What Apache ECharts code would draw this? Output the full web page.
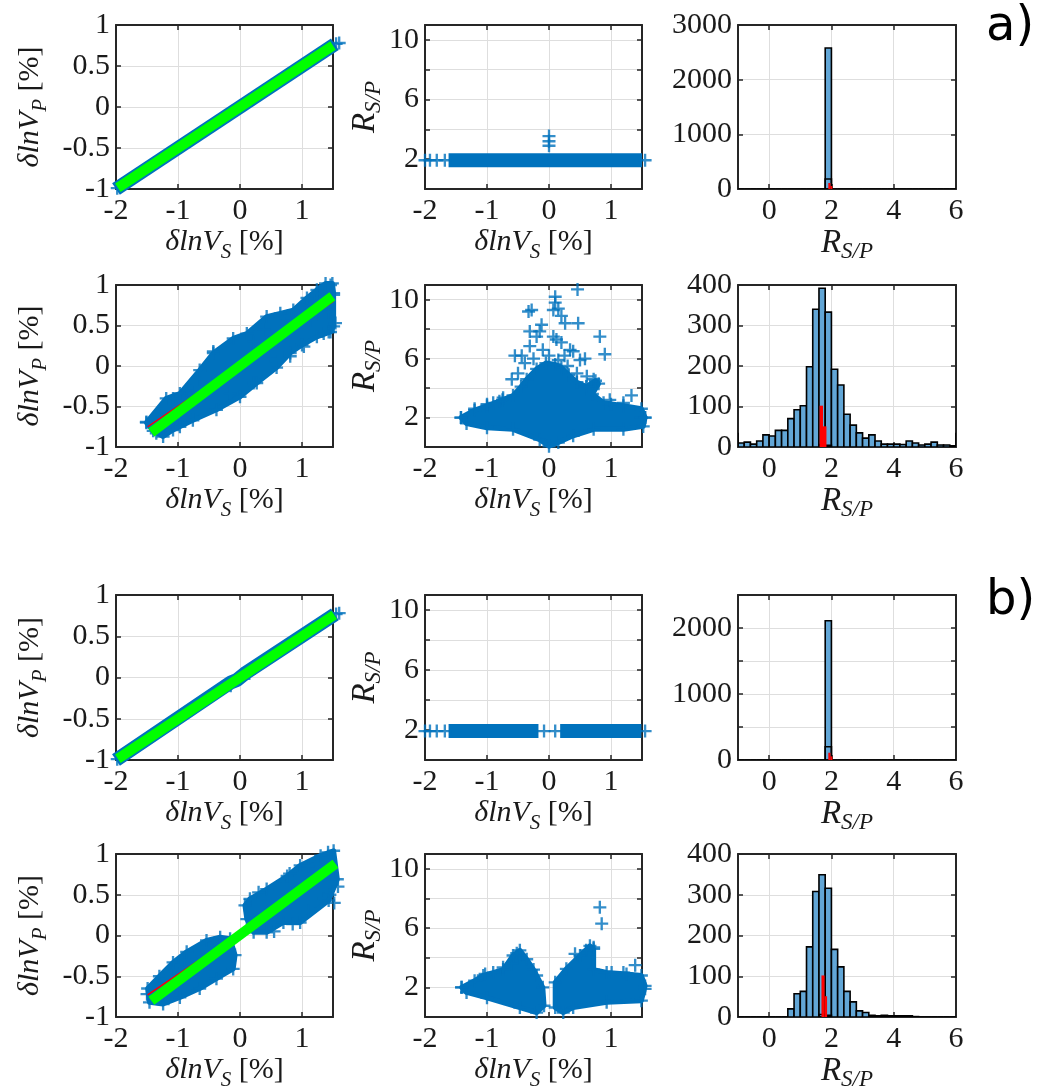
<!DOCTYPE html>
<html>
<head>
<meta charset="utf-8">
<script src="https://cdn.jsdelivr.net/npm/echarts@6/dist/echarts.min.js"></script>
<style>
html,body{margin:0;padding:0;background:#fff;}
#main{width:1052px;height:1086px;}
</style>
</head>
<body>
<div id="main"></div>
<script>
// ---------- tick values ----------
var lnXTicks = [-2, -1, 0, 1];
var lnYTicks = [-1, -0.5, 0, 0.5, 1];
var rYTicks = [0, 2, 4, 6, 8, 10];
var rYLabels = [2, 6, 10];
var histXTicks = [0, 2, 4, 6];
var histYTicksA1 = [0, 1000, 2000, 3000];
var histYTicksB1 = [0, 500, 1000, 1500, 2000, 2500];
var histYLabelsB1 = [0, 1000, 2000];
var histYTicksNoisy = [0, 100, 200, 300, 400];

// ---------- histogram bins ----------
var binEdges = [-1, -0.8, -0.6, -0.4, -0.2, 0, 0.2, 0.4, 0.6, 0.8, 1, 1.2, 1.4, 1.6, 1.8, 2, 2.2, 2.4,
  2.6, 2.8, 3, 3.2, 3.4, 3.6, 3.8, 4, 4.2, 4.4, 4.6, 4.8, 5, 5.2, 5.4, 5.6, 5.8, 6];
var countsA1 = [0,0,0,0,0,0,0,0,0,0,0,0,0,0,2580,0,0,0,0,0,0,0,0,0,0,0,0,0,0,0,0,0,0,0,0];
var countsA2 = [10,12,7,15,30,27,41,41,70,92,102,198,340,392,333,192,153,81,54,35,22,30,15,7,7,7,6,15,10,5,7,12,5,5,3];
var countsB1 = [0,0,0,0,0,0,0,0,0,0,0,0,0,0,2110,0,0,0,0,0,0,0,0,0,0,0,0,0,0,0,0,0,0,0,0];
var countsB2 = [0,0,0,0,0,0,0,0,20,57,63,172,308,349,316,166,123,63,37,15,11,4,3,4,3,3,3,3,1,0,0,0,0,0,0];
// second histogram (outline only) and red histogram: [from, to, count]
var outlineA1 = [[1.8, 2.0, 183]];
var outlineA2 = [[-1.2, -1.0, 33], [1.6, 1.8, 6], [1.8, 2.0, 4], [6.0, 6.2, 33]];
var outlineB1 = [[1.8, 2.0, 200]];
var outlineB2 = [[1.6, 1.8, 6], [1.8, 2.0, 4]];
var redA1 = [[1.9, 1.97, 110], [1.97, 2.03, 55]];
var redA2 = [[1.62, 1.73, 102], [1.73, 1.84, 51]];
var redB1 = [[1.9, 1.97, 110], [1.97, 2.03, 55]];
var redB2 = [[1.68, 1.78, 102], [1.78, 1.86, 51]];

// ---------- dlnVS vs dlnVP ----------
var bandA1 = [[-2.0, -1.0], [1.53, 0.765]];
var fitA1 = [[-1.97, -0.985], [1.5, 0.75]];
var ptsA1 = [[-1.98, -0.99], [-1.9, -0.955], [1.55, 0.77], [1.6, 0.78]];
var bandB1 = [[-2.0, -1.0], [-0.15, -0.06], [-0.05, -0.03], [0.1, 0.06], [1.53, 0.765]];
var fitB1 = [[-1.97, -0.985], [1.52, 0.76]];
var ptsB1 = [[-1.98, -0.99], [-1.9, -0.955], [0.15, 0.05], [-0.15, -0.1], [1.55, 0.77], [1.6, 0.78]];

var cloudA2 = [[-1.51,-0.70],[-1.19,-0.40],[-0.97,-0.34],[-0.65,-0.05],[-0.43,0.16],[-0.11,0.34],[0.11,0.40],
  [0.43,0.61],[0.65,0.65],[0.86,0.69],[1.08,0.84],[1.24,0.94],[1.38,1.02],[1.49,1.02],[1.51,0.90],
  [1.51,0.49],[1.46,0.42],[1.24,0.36],[1.0,0.26],[0.81,0.16],[0.59,-0.02],[0.27,-0.21],[0.0,-0.38],
  [-0.38,-0.54],[-0.76,-0.67],[-1.08,-0.79],[-1.24,-0.87],[-1.4,-0.80]];
var ptsA2 = [[-1.51,-0.69],[-1.08,-0.40],[-0.86,-0.30],[-0.43,0.18],[0.22,0.30],[0.38,0.45],[0.84,0.59],
  [1.14,0.57],[1.03,0.24],[0.81,0.12],[0.22,-0.21],[1.24,0.90],[1.46,1.0],[1.51,0.88],[1.54,0.53],
  [1.43,0.42],[1.35,0.40],[-0.97,-0.75],[-1.35,-0.83],[-0.65,-0.26],[-0.16,-0.34],[0.49,0.12],[1.43,0.67]];
var fitA2 = [[-1.43, -0.82], [1.49, 0.86]];
var redFitA2 = [[-1.49, -0.75], [1.51, 0.80]];

var cloudB2L = [[-1.49,-0.65],[-1.3,-0.5],[-1.08,-0.33],[-0.86,-0.2],[-0.54,-0.06],[-0.32,-0.02],[-0.16,-0.04],
  [-0.08,-0.24],[-0.11,-0.41],[-0.38,-0.53],[-0.65,-0.65],[-0.97,-0.76],[-1.24,-0.84],[-1.46,-0.82]];
var cloudB2R = [[0.08,0.37],[0.16,0.45],[0.43,0.57],[0.76,0.73],[0.97,0.86],[1.3,0.98],[1.51,1.04],
  [1.57,0.69],[1.43,0.43],[0.97,0.16],[0.7,0.16],[0.43,0.04],[0.22,0.04],[0.11,0.2]];
var ptsB2 = [[-1.5,-0.72],[-1.1,-0.4],[-0.9,-0.3],[0.3,0.53],[0.8,0.76],[1.1,0.85],[1.42,1.02],[1.58,0.6],
  [1.52,0.4],[1.1,0.3],[0.85,0.14],[0.55,0.05],[1.35,0.45],[1.45,0.5]];
var fitB2 = [[-1.43, -0.8], [1.54, 0.88]];
var redFitB2 = [[-1.49, -0.73], [1.57, 0.84]];

// ---------- dlnVS vs R_S/P ----------
var rBandA1 = [[-1.62, 1.93], [1.5, 1.93]];
var rPtsA1 = [[-2.0,1.93],[-1.92,1.93],[-1.81,1.93],[-1.68,1.93],[1.55,1.93],[0,2.9],[0,3.2],[0,3.55]];
var rBandB1L = [[-1.62, 1.93], [-0.17, 1.93]];
var rBandB1R = [[0.18, 1.93], [1.49, 1.93]];
var rPtsB1 = [[-2.0,1.93],[-1.92,1.93],[-1.81,1.93],[-1.68,1.93],[-0.08,1.93],[0.1,1.93],[1.55,1.93]];

var rCloudA2 = [[-1.42,2.0],[-1.2,2.5],[-1.0,2.8],[-0.75,3.2],[-0.58,3.5],[-0.45,4.1],[-0.36,4.6],[-0.2,5.3],
  [-0.05,5.7],[0.1,5.6],[0.2,5.4],[0.32,4.9],[0.45,4.4],[0.6,4.1],[0.75,4.5],[0.8,4.3],[0.7,3.6],[0.88,3.0],
  [1.2,2.8],[1.49,2.6],[1.55,2.0],[1.52,1.4],[1.2,1.2],[0.72,1.2],[0.39,0.76],[0.15,0.3],[0.0,0.05],
  [-0.15,0.5],[-0.58,1.2],[-1.0,1.3],[-1.33,1.6]];
var rPtsA2 = [[-1.42,2.0],[-1.0,2.9],[-0.74,3.35],[-0.28,9.3],[-0.33,9.2],[-0.12,8.3],[-0.31,7.85],[-0.15,7.85],
  [-0.2,7.5],[-0.31,6.85],[-0.55,6.2],[-0.44,6.2],[-0.39,5.7],[0.1,10.2],[0.1,9.8],[0.15,9.4],[0.07,9.3],
  [0.2,8.9],[0.26,8.4],[0.46,10.7],[0.47,8.4],[0.07,7.5],[0.12,7.3],[0.2,7.1],[0.34,6.6],[0.39,6.5],[0.5,5.9],
  [0.58,6.0],[0.82,7.5],[0.9,6.3],[0.61,4.8],[0.72,4.6],[1.33,3.5],[0.98,3.2],[1.49,2.0],[1.55,2.0],
  [-0.25,6.0],[0.0,6.2],[-0.1,6.6],[0.25,6.2],[0.15,5.9],[-0.6,4.6],[-0.5,5.0],[0.3,5.5],[0.45,5.0],
  [1.0,2.9],[1.2,3.0],[-1.2,2.6],[-0.9,3.0],[-0.8,3.1]];

var rCloudB2L = [[-1.41,2.0],[-1.2,2.45],[-1.06,2.8],[-0.9,3.0],[-0.74,3.2],[-0.58,4.15],[-0.47,4.5],[-0.36,3.9],
  [-0.25,3.2],[-0.2,2.8],[-0.1,2.0],[-0.08,0.76],[-0.2,0.3],[-0.47,0.64],[-1.0,1.3],[-1.33,1.66]];
var rCloudB2R = [[0.1,2.34],[0.28,3.25],[0.5,4.15],[0.66,4.8],[0.72,4.6],[0.72,3.2],[0.93,3.0],[1.25,2.9],
  [1.49,2.8],[1.55,2.1],[1.49,1.1],[0.93,1.0],[0.39,0.64],[0.23,0.3],[0.1,0.64]];
var rPtsB2 = [[0.82,7.4],[0.85,6.3],[0.42,4.26],[1.39,3.5],[1.01,3.0],[-1.41,2.0],[-1.03,2.9],[-0.74,3.35],
  [-0.47,4.15],[-0.52,4.3],[0.72,4.7],[1.55,1.9],[-0.6,3.6],[0.6,4.5],[1.2,3.0]];

// ---------- styles ----------
var BLUE = '#0072BD';
var HISTBLUE = '#62A6D6';
var PLUS = 'path://M4.1,0H5.9V4.1H10V5.9H5.9V10H4.1V5.9H0V4.1H4.1Z';
var INK = '#1a1a1a';
var SERIF = 'Liberation Serif';

var rich = {
  it: {fontFamily: SERIF, fontStyle: 'italic', fontSize: 30, color: INK, lineHeight: 42, verticalAlign: 'middle'},
  sub: {fontFamily: SERIF, fontStyle: 'italic', fontSize: 21, color: INK, lineHeight: 42, verticalAlign: 'bottom'},
  rm: {fontFamily: SERIF, fontSize: 30, color: INK, lineHeight: 42, verticalAlign: 'middle'},
  bigR: {fontFamily: SERIF, fontStyle: 'italic', fontSize: 33, color: INK, lineHeight: 40, verticalAlign: 'middle'},
  subR: {fontFamily: SERIF, fontStyle: 'italic', fontSize: 23, color: INK, lineHeight: 40, verticalAlign: 'bottom'}
};
var nameVS = '{it|δlnV}{sub|S}{rm| [%]}';
var nameVP = '{it|δlnV}{sub|P}{rm| [%]}';
var nameR = '{bigR|R}{subR|S/P}';

var option = {animation: false, backgroundColor: '#fff', grid: [], xAxis: [], yAxis: [], series: [], graphic: []};

function makeAxis(dim, g, c, mirror) {
  return {
    type: 'value', gridIndex: g, min: c.min, max: c.max,
    position: dim === 'x' ? (mirror ? 'top' : 'bottom') : (mirror ? 'right' : 'left'),
    axisLine: {show: true, onZero: false, lineStyle: {color: '#262626', width: 2}},
    axisTick: {show: true, inside: true, length: 5, customValues: c.ticks, lineStyle: {color: '#262626', width: 1.5}},
    axisLabel: {show: !mirror, customValues: c.labels || c.ticks, margin: dim === 'x' ? 7 : 6,
      fontFamily: SERIF, fontSize: 30, color: INK,
      formatter: function (v) { return String(v); }},
    splitLine: {show: !mirror, lineStyle: {color: '#dedede', width: 1}},
    name: mirror ? '' : (c.name || ''), nameLocation: 'middle', nameGap: c.gap || 0,
    nameTextStyle: {rich: rich}
  };
}

function addPanel(box, xc, yc) {
  var g = option.grid.length;
  option.grid.push({left: box[0], top: box[1], width: box[2], height: box[3],
    outerBoundsMode: 'none', containLabel: false});
  var xi = option.xAxis.length, yi = option.yAxis.length;
  option.xAxis.push(makeAxis('x', g, xc, false), makeAxis('x', g, xc, true));
  option.yAxis.push(makeAxis('y', g, yc, false), makeAxis('y', g, yc, true));
  return {x: xi, y: yi};
}

function scatter(ix, data) {
  option.series.push({type: 'scatter', xAxisIndex: ix.x, yAxisIndex: ix.y, data: data, symbol: PLUS,
    symbolSize: 13, itemStyle: {color: BLUE}, clip: false, silent: true, z: 2});
}
function line(ix, data, color, width, z) {
  option.series.push({type: 'line', xAxisIndex: ix.x, yAxisIndex: ix.y, data: data, symbol: 'none',
    lineStyle: {color: color, width: width, cap: 'butt'}, clip: false, silent: true, z: z});
}
function cloud(ix, poly) {
  option.series.push({type: 'custom', xAxisIndex: ix.x, yAxisIndex: ix.y, data: poly, encode: {x: 0, y: 1},
    silent: true, z: 2,
    renderItem: function (params, api) {
      if (params.dataIndex !== 0) return null;
      var pts = poly.map(function (p) { return api.coord(p); });
      return {type: 'polygon', shape: {points: pts}, style: {fill: BLUE, stroke: BLUE, lineWidth: 5, lineJoin: 'round'}};
    }});
}
function hist(ix, bins, fill, stroke, z) {
  option.series.push({type: 'custom', xAxisIndex: ix.x, yAxisIndex: ix.y, data: bins, encode: {x: [0, 1], y: 2},
    clip: true, silent: true, z: z,
    renderItem: function (params, api) {
      var p0 = api.coord([api.value(0), 0]);
      var p1 = api.coord([api.value(1), api.value(2)]);
      return {type: 'rect', shape: {x: p0[0], y: p1[1], width: p1[0] - p0[0], height: p0[1] - p1[1]},
        style: {fill: fill, stroke: stroke, lineWidth: stroke ? 1.6 : 0}};
    }});
}
function binned(counts) {
  return counts.map(function (c, i) { return [binEdges[i], binEdges[i + 1], c]; });
}

var lnX = {min: -2, max: 1.5, ticks: lnXTicks, name: nameVS, gap: 26};
var lnY = {min: -1, max: 1, ticks: lnYTicks, name: nameVP, gap: 65};
var rY = {min: 0, max: 11, ticks: rYTicks, labels: rYLabels, name: nameR, gap: 37};
var hX = {min: -1, max: 6, ticks: histXTicks, name: nameR, gap: 23};

var rows = [[25, 164], [285, 162], [595, 165], [854, 163]];
var cols = [[116, 217], [425, 217], [738, 218]];
function box(r, c) { return [cols[c][0], rows[r][0], cols[c][1], rows[r][1]]; }

// row a1
var p = addPanel(box(0, 0), lnX, lnY);
line(p, bandA1, BLUE, 14, 2); scatter(p, ptsA1); line(p, fitA1, '#00ff00', 10, 4);
p = addPanel(box(0, 1), lnX, rY);
line(p, rBandA1, BLUE, 14, 2); scatter(p, rPtsA1);
p = addPanel(box(0, 2), hX, {min: 0, max: 3000, ticks: histYTicksA1});
hist(p, binned(countsA1), HISTBLUE, '#000', 2); hist(p, outlineA1, 'none', '#000', 3); hist(p, redA1, '#ff0000', null, 4);

// row a2
p = addPanel(box(1, 0), lnX, lnY);
cloud(p, cloudA2); scatter(p, cloudA2.concat(ptsA2));
line(p, redFitA2, '#ff0000', 1.5, 3); line(p, fitA2, '#00ff00', 10, 4);
p = addPanel(box(1, 1), lnX, rY);
cloud(p, rCloudA2); scatter(p, rCloudA2.concat(rPtsA2));
p = addPanel(box(1, 2), hX, {min: 0, max: 400, ticks: histYTicksNoisy});
hist(p, binned(countsA2), HISTBLUE, '#000', 2); hist(p, outlineA2, 'none', '#000', 3); hist(p, redA2, '#ff0000', null, 4);

// row b1
p = addPanel(box(2, 0), lnX, lnY);
line(p, bandB1, BLUE, 14, 2); scatter(p, ptsB1); line(p, fitB1, '#00ff00', 10, 4);
p = addPanel(box(2, 1), lnX, rY);
line(p, rBandB1L, BLUE, 14, 2); line(p, rBandB1R, BLUE, 14, 2); scatter(p, rPtsB1);
p = addPanel(box(2, 2), hX, {min: 0, max: 2500, ticks: histYTicksB1, labels: histYLabelsB1});
hist(p, binned(countsB1), HISTBLUE, '#000', 2); hist(p, outlineB1, 'none', '#000', 3); hist(p, redB1, '#ff0000', null, 4);

// row b2
p = addPanel(box(3, 0), lnX, lnY);
cloud(p, cloudB2L); cloud(p, cloudB2R); scatter(p, cloudB2L.concat(cloudB2R, ptsB2));
line(p, redFitB2, '#ff0000', 1.5, 3); line(p, fitB2, '#00ff00', 10, 4);
p = addPanel(box(3, 1), lnX, rY);
cloud(p, rCloudB2L); cloud(p, rCloudB2R); scatter(p, rCloudB2L.concat(rCloudB2R, rPtsB2));
p = addPanel(box(3, 2), hX, {min: 0, max: 400, ticks: histYTicksNoisy});
hist(p, binned(countsB2), HISTBLUE, '#000', 2); hist(p, outlineB2, 'none', '#000', 3); hist(p, redB2, '#ff0000', null, 4);

// panel letters
option.graphic = [
  {type: 'text', left: 986, top: 4, style: {text: 'a)', font: '48px "DejaVu Sans"', fill: '#000'}},
  {type: 'text', left: 986, top: 578, style: {text: 'b)', font: '48px "DejaVu Sans"', fill: '#000'}}
];

var chart = echarts.init(document.getElementById('main'));
chart.setOption(option);
</script>
</body>
</html>
